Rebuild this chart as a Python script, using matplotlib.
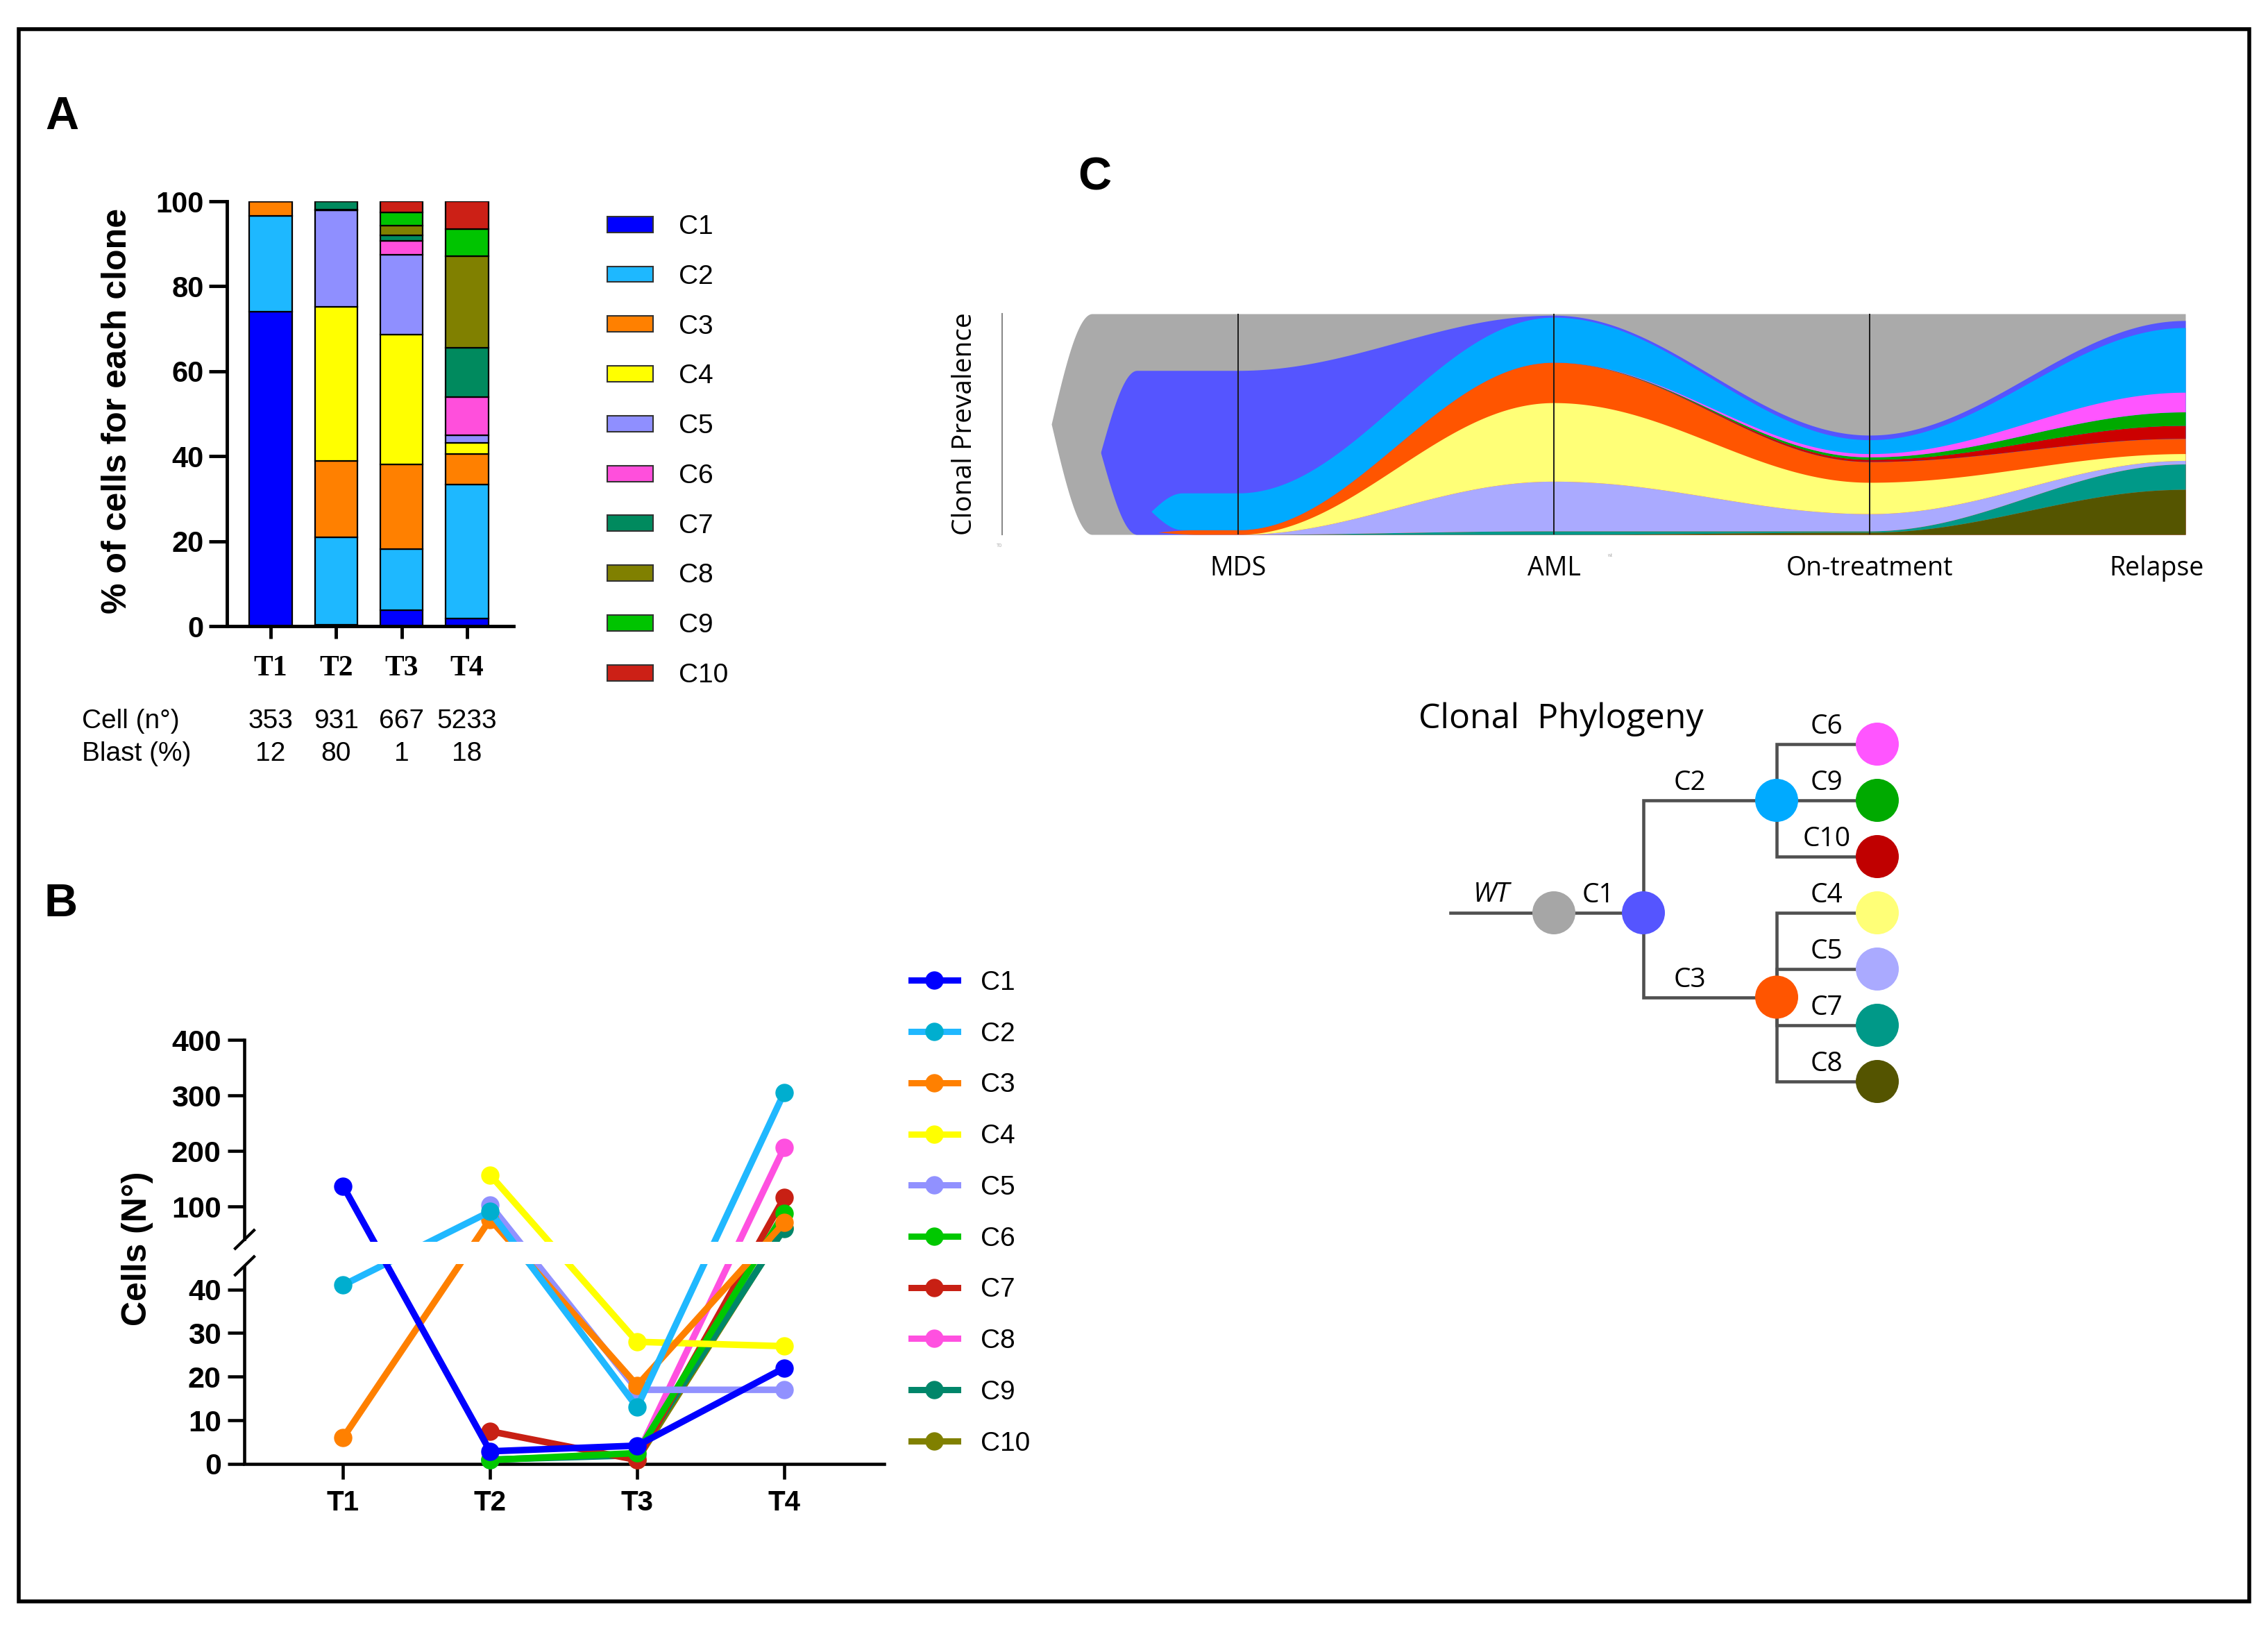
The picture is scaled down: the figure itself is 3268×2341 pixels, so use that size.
import numpy as np
import matplotlib
matplotlib.use("Agg")
import matplotlib.pyplot as plt
import matplotlib.transforms as mtransforms
from matplotlib.patches import Rectangle, Circle, Patch
from matplotlib.lines import Line2D
from matplotlib.path import Path

plt.rcParams['font.family'] = ['Liberation Sans', 'DejaVu Sans']

# ===================== DATA =====================
clone_names = ["C1", "C2", "C3", "C4", "C5", "C6", "C7", "C8", "C9", "C10"]

# ---- Panel A: % of cells for each clone ----
sample_labels = ["T1", "T2", "T3", "T4"]
pct_C1 = [74.1, 0.3, 3.8, 1.8]
pct_C2 = [22.4, 20.6, 14.4, 31.5]
pct_C3 = [3.5, 18.0, 19.8, 7.3]
pct_C4 = [0.0, 36.3, 30.7, 2.5]
pct_C5 = [0.0, 22.6, 18.8, 1.9]
pct_C6 = [0.0, 0.2, 3.2, 8.9]
pct_C7 = [0.0, 2.0, 1.3, 11.7]
pct_C8 = [0.0, 0.0, 2.2, 21.5]
pct_C9 = [0.0, 0.0, 3.2, 6.3]
pct_C10 = [0.0, 0.0, 2.6, 6.6]
cell_counts = [353, 931, 667, 5233]
blast_pct = [12, 80, 1, 18]

# ---- Panel B: number of cells ----
nan = np.nan
cells_C1 = [137, 2.9, 4.2, 22]
cells_C2 = [41, 91, 13, 305]
cells_C3 = [6, 77, 18, 71]
cells_C4 = [nan, 157, 28, 27]
cells_C5 = [nan, 103, 17, 17]
cells_C6 = [nan, 0.9, 2.5, 88]
cells_C7 = [nan, 7.5, 0.9, 116]
cells_C8 = [nan, nan, 2.0, 206]
cells_C9 = [nan, 1.0, 2.0, 60]
cells_C10 = [nan, nan, 1.0, 62]

# ---- Panel C: fish plot (clonal prevalence, % incl. descendants) ----
fish_timepoints = ["MDS", "AML", "On-treatment", "Relapse"]
ccf_C1 = [74.3, 99.3, 45.0, 96.9]
ccf_C2 = [16.7, 20.4, 9.9, 50.2]
ccf_C3 = [2.1, 78.0, 33.0, 43.5]
ccf_C4 = [0.0, 35.6, 14.2, 3.1]
ccf_C5 = [0.0, 22.5, 7.8, 1.6]
ccf_C6 = [0.0, 0.0, 1.5, 8.9]
ccf_C7 = [0.0, 1.6, 0.6, 11.5]
ccf_C8 = [0.0, 0.0, 1.0, 20.4]
ccf_C9 = [0.0, 0.0, 1.1, 6.1]
ccf_C10 = [0.0, 0.0, 1.0, 5.9]

# ---- Clonal phylogeny (topology) ----
tree_children = {"WT": ["C1"], "C1": ["C2", "C3"],
                 "C2": ["C6", "C9", "C10"], "C3": ["C4", "C5", "C7", "C8"]}

# ===================== STYLE =====================
colors_A = ['#0000FF', '#1EB8FF', '#FF8000', '#FFFF00', '#8F8FFF',
            '#FF4FDC', '#008A5E', '#808000', '#00C400', '#CC2016']
line_colors_B = ['#0000FF', '#20B8FF', '#FF8000', '#FFFF00', '#9191FF',
                 '#00C800', '#C82014', '#FF50E0', '#00866A', '#808000']
marker_colors_B = ['#0000FF', '#00AECF', '#FF8000', '#FFFF00', '#9191FF',
                   '#00C800', '#C82014', '#FF50E0', '#00866A', '#808000']
fish_colors = {"WT": '#AAAAAA', "C1": '#5555FF', "C2": '#00AAFF', "C3": '#FF5500',
               "C4": '#FFFF77', "C5": '#AAAAFF', "C6": '#FF55FF', "C7": '#009988',
               "C8": '#555500', "C9": '#00AA00', "C10": '#CC0000'}

W, H = 3268, 2341
fig = plt.figure(figsize=(W / 100, H / 100), dpi=100)


def fx(x):
    return x / W


def fy(y):
    return 1 - y / H


def add_axes_px(left, top, right, bottom, **kw):
    return fig.add_axes([left / W, 1 - bottom / H, (right - left) / W, (bottom - top) / H], **kw)


# overlay axes in pixel coordinates (border + phylogeny)
ov = fig.add_axes([0, 0, 1, 1])
ov.set_xlim(0, W)
ov.set_ylim(H, 0)
ov.axis('off')
ov.add_patch(Rectangle((27, 42), 3241 - 27, 2307 - 42, fill=False, ec='black', lw=4))

# panel letters
for letter, (x, y) in zip("ABC", [(89, 169), (88, 1303), (1577, 256)]):
    fig.text(fx(x), fy(y), letter, ha='center', va='center', fontsize=48, fontweight='bold')

# ===================== PANEL A =====================
axA = add_axes_px(327, 290, 740, 902)
pct_series = [pct_C1, pct_C2, pct_C3, pct_C4, pct_C5, pct_C6, pct_C7, pct_C8, pct_C9, pct_C10]
xA = np.arange(len(sample_labels))
bottom = np.zeros(len(sample_labels))
for name, vals, col in zip(clone_names, pct_series, colors_A):
    vals = np.asarray(vals, float)
    axA.bar(xA, vals, 0.65, bottom=bottom, color=col, edgecolor='black', linewidth=1.6)
    bottom += vals
axA.set_xlim(-0.668, 3.71)
axA.set_ylim(0, 100)
axA.set_yticks([0, 20, 40, 60, 80, 100])
for s in ['top', 'right']:
    axA.spines[s].set_visible(False)
for s in ['left', 'bottom']:
    axA.spines[s].set_linewidth(3.5)
axA.tick_params(axis='y', length=19, width=3.5, pad=5, labelsize=30)
axA.tick_params(axis='x', length=13, width=3.5, pad=17)
axA.set_xticks(xA)
axA.set_xticklabels(sample_labels, fontfamily='Liberation Serif', fontweight='bold', fontsize=30)
for lab in axA.get_yticklabels():
    lab.set_fontweight('bold')
fig.text(fx(169), fy(592), "% of cells for each clone", rotation=90, ha='center', va='center',
         fontsize=36, fontweight='bold')

handlesA = [Patch(facecolor=c, edgecolor='#333333', linewidth=1.5) for c in colors_A]
fig.legend(handlesA, clone_names, loc='upper left', bbox_to_anchor=(fx(875), fy(309)),
           bbox_transform=fig.transFigure, frameon=False, fontsize=28,
           handlelength=1.70, handleheight=0.53, handletextpad=0.95, labelspacing=0.92,
           borderpad=0, borderaxespad=0)

trA = mtransforms.blended_transform_factory(axA.transData, fig.transFigure)
fig.text(fx(118), fy(1039), "Cell (n°)", ha='left', va='center', fontsize=28)
fig.text(fx(118), fy(1086), "Blast (%)", ha='left', va='center', fontsize=28)
for i, (c, b) in enumerate(zip(cell_counts, blast_pct)):
    fig.text(xA[i], fy(1039), str(c), transform=trA, ha='center', va='center', fontsize=28)
    fig.text(xA[i], fy(1086), str(b), transform=trA, ha='center', va='center', fontsize=28)

# ===================== PANEL B =====================
LOW_SLOPE, UP_SLOPE = 6.28, 0.80
LOW_END, GAP_END = 46.0, 55.0
F_LOW_END = LOW_SLOPE * LOW_END
F100 = 370.6
F_GAP_END = F100 + UP_SLOPE * (GAP_END - 100)


def fwd(v):
    v = np.asarray(v, float)
    return np.where(v <= LOW_END, LOW_SLOPE * v,
                    np.where(v <= GAP_END,
                             F_LOW_END + (v - LOW_END) * (F_GAP_END - F_LOW_END) / (GAP_END - LOW_END),
                             F100 + UP_SLOPE * (v - 100)))


def inv(f):
    f = np.asarray(f, float)
    return np.where(f <= F_LOW_END, f / LOW_SLOPE,
                    np.where(f <= F_GAP_END,
                             LOW_END + (f - F_LOW_END) * (GAP_END - LOW_END) / (F_GAP_END - F_LOW_END),
                             100 + (f - F100) / UP_SLOPE))


axB = add_axes_px(352, 1498, 1274, 2109)
axB.set_yscale('function', functions=(fwd, inv))
axB.set_ylim(0, 400)
axB.set_xlim(0.328, 4.68)
xB = np.arange(1, 5)
cells_series = [cells_C1, cells_C2, cells_C3, cells_C4, cells_C5, cells_C6, cells_C7,
                cells_C8, cells_C9, cells_C10]
items = list(zip(clone_names, cells_series, line_colors_B, marker_colors_B))
for name, vals, lc, mc in reversed(items):
    axB.plot(xB, vals, color=lc, lw=6.8, marker='o', ms=18, mfc=mc, mec=mc,
             clip_on=False, zorder=3)
# blank band of the broken axis
axB.axhspan(float(inv(288)), float(inv(320)), color='white', zorder=4, lw=0)
axB.spines['left'].set_visible(False)
for s in ['top', 'right']:
    axB.spines[s].set_visible(False)
axB.spines['bottom'].set_linewidth(3.3)
ytr = axB.get_yaxis_transform()
axB.plot([0, 0], [0, float(inv(286))], transform=ytr, color='black', lw=3.3,
         clip_on=False, zorder=6, solid_capstyle='butt')
axB.plot([0, 0], [float(inv(324)), 400], transform=ytr, color='black', lw=3.3,
         clip_on=False, zorder=6, solid_capstyle='projecting')
brk = Path([(-1, -0.97), (1, 0.97)], [Path.MOVETO, Path.LINETO])
axB.plot([0, 0], [float(inv(285.5)), float(inv(323.5))], transform=ytr, ls='none',
         marker=brk, ms=21.6, mfc='none', mec='black', mew=3.0, clip_on=False, zorder=7)
axB.set_yticks([0, 10, 20, 30, 40, 100, 200, 300, 400])
axB.set_yticklabels(['0', '10', '20', '30', '40', '100', '200', '300', '400'])
axB.yaxis.set_minor_locator(matplotlib.ticker.NullLocator())
axB.tick_params(axis='y', length=17, width=3.3, pad=7, labelsize=31)
axB.tick_params(axis='x', length=16, width=3.3, pad=11, labelsize=29)
axB.set_xticks(xB)
axB.set_xticklabels(sample_labels)
for lab in axB.get_yticklabels() + axB.get_xticklabels():
    lab.set_fontweight('bold')
fig.text(fx(198), fy(1799), "Cells (N°)", rotation=90, ha='center', va='center',
         fontsize=36, fontweight='bold')

handlesB = [Line2D([0], [0], color=lc, lw=6.5, marker='o', ms=18, mfc=mc, mec=mc)
            for lc, mc in zip(line_colors_B, marker_colors_B)]
fig.legend(handlesB, clone_names, loc='upper left', bbox_to_anchor=(fx(1313), fy(1398)),
           bbox_transform=fig.transFigure, frameon=False, fontsize=28, numpoints=1,
           handlelength=1.72, handletextpad=0.85, labelspacing=0.97,
           borderpad=0, borderaxespad=0)

# ===================== PANEL C: fish plot =====================
axC = add_axes_px(1444, 452, 3149, 770)
tp = np.array([1.0, 2.0, 3.0, 4.0])
fish_ccf = {"WT": [100.0] * 4, "C1": ccf_C1, "C2": ccf_C2, "C3": ccf_C3, "C4": ccf_C4,
            "C5": ccf_C5, "C6": ccf_C6, "C7": ccf_C7, "C8": ccf_C8, "C9": ccf_C9, "C10": ccf_C10}
# children stacked from the bottom of their parent
fish_stack = {"WT": ["C1"], "C1": ["C3", "C2"], "C3": ["C8", "C7", "C5", "C4"],
              "C2": ["C10", "C9", "C6"]}
bounds = {}


def place(node, base):
    frac = np.asarray(fish_ccf[node], float) / 100.0
    bounds[node] = (base.copy(), base + frac)
    cur = base.copy()
    for ch in fish_stack.get(node, []):
        place(ch, cur)
        cur = cur + np.asarray(fish_ccf[ch], float) / 100.0


place("WT", np.zeros(4))


def smooth_interp(xq, t, v):
    v = np.asarray(v, float)
    idx = np.clip(np.searchsorted(t, xq, side='right') - 1, 0, len(t) - 2)
    u = np.clip((xq - t[idx]) / (t[idx + 1] - t[idx]), 0, 1)
    s = 0.5 - 0.5 * np.cos(np.pi * u)
    return v[idx] + (v[idx + 1] - v[idx]) * s


lead_in = {"WT": (0.409, 0.538), "C1": (0.565, 0.68), "C2": (0.725, 0.824), "C3": (0.746, 0.876)}
xs = np.linspace(0.40, 4.0, 4000)
draw_order = ["WT", "C1", "C3", "C2", "C8", "C7", "C5", "C4", "C10", "C9", "C6"]
for node in draw_order:
    b, t = bounds[node]
    bot = smooth_interp(xs, tp, b)
    top = smooth_interp(xs, tp, t)
    if node in lead_in:
        te, tf = lead_in[node]
        c = 0.5 * (b[0] + t[0])
        u = np.clip((xs - te) / (tf - te), 0, 1)
        g = np.sin(0.5 * np.pi * u)
        pre = xs < tf
        bot = np.where(pre, c + (b[0] - c) * g, bot)
        top = np.where(pre, c + (t[0] - c) * g, top)
        mask = xs >= te
    else:
        mask = xs >= 1.0
    axC.fill_between(xs[mask], bot[mask], top[mask], color=fish_colors[node], lw=0, zorder=2)
for t in tp[:3]:
    axC.axvline(t, color='#1a1a1a', lw=1.4, zorder=5)
axC.set_xlim(0.253, 4.0)
axC.set_ylim(0, 1)
for s in ['top', 'right', 'bottom']:
    axC.spines[s].set_visible(False)
axC.spines['left'].set_color('#8a8a8a')
axC.spines['left'].set_linewidth(1.5)
axC.set_xticks([])
axC.set_yticks([])
trC = mtransforms.blended_transform_factory(axC.transData, axC.transAxes)
label_shift = [0.0, 0.0, 0.0, -0.092]
for lbl, t, dx in zip(fish_timepoints, tp, label_shift):
    axC.text(t + dx, -0.154, lbl, transform=trC, ha='center', va='center',
             fontsize=27, fontfamily='Open Sans')
fig.text(fx(1390), fy(611), "Clonal Prevalence", rotation=90, ha='center', va='center',
         fontsize=28, fontfamily='Open Sans')
fig.text(fx(1440), fy(786), "T0", ha='center', va='center', fontsize=5, color='#aaaaaa')
fig.text(fx(2320), fy(800), "wt", ha='center', va='center', fontsize=5, color='#aaaaaa')

# ===================== Clonal phylogeny =====================
tree_colors = {"WT": '#A6A6A6', "C1": '#5555FF', "C2": '#00AAFF', "C3": '#FF5500',
               "C4": '#FFFF77', "C5": '#AAAAFF', "C6": '#FF55FF', "C7": '#009988',
               "C8": '#545400', "C9": '#00AA00', "C10": '#C00000'}
leaf_y0, leaf_dy = 1072, 81
depth_x = [2239, 2368, 2560, 2705]
root_x0 = 2090
node_r = 31
tree_line = '#505050'


def leaves(n):
    if n not in tree_children:
        return [n]
    out = []
    for c in tree_children[n]:
        out += leaves(c)
    return out


leaf_row = {n: i for i, n in enumerate(leaves("WT"))}
pos = {}


def layout(n, d):
    rows = sorted(leaf_row[l] for l in leaves(n))
    pos[n] = (depth_x[d], leaf_y0 + leaf_dy * float(np.median(rows)))
    for c in tree_children.get(n, []):
        layout(c, d + 1)


layout("WT", 0)
tree_font = dict(fontsize=28, fontfamily='Open Sans', ha='center', va='center')
xw, yw = pos["WT"]
ov.plot([root_x0, xw], [yw, yw], color=tree_line, lw=3.3, zorder=2)
ov.text((root_x0 + xw) / 2 - 15, yw - 26, "WT", style='italic', **tree_font)
for p, chs in tree_children.items():
    xp, yp = pos[p]
    for c in chs:
        xc, yc = pos[c]
        ov.plot([xp, xp, xc], [yp, yc, yc], color=tree_line, lw=3.3, zorder=2,
                solid_joinstyle='miter')
        shift = -0.15 * (xc - xp) if (xc - xp) > 150 else 0
        ov.text((xp + xc) / 2 + shift, yc - 25, c, **tree_font)
for n, (x, y) in pos.items():
    ov.add_patch(Circle((x, y), node_r, color=tree_colors[n], zorder=3, lw=0))
ov.text(2249, 1036, "Clonal  Phylogeny", ha='center', va='center', fontsize=36,
        fontfamily='Open Sans')

fig.savefig("out.png", dpi=100)
